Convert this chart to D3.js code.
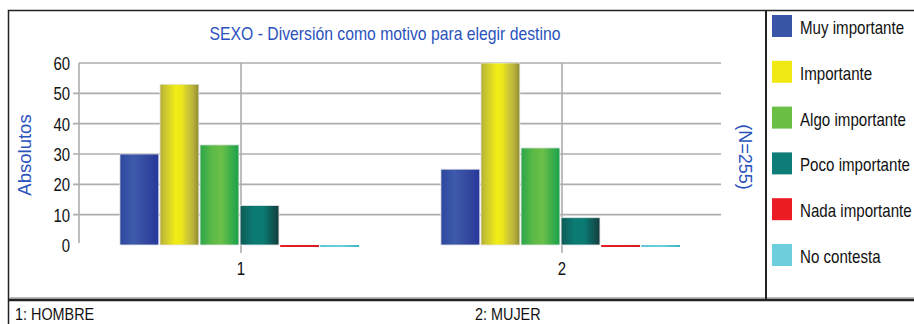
<!DOCTYPE html>
<html><head><meta charset="utf-8">
<script src="https://cdn.jsdelivr.net/npm/d3@7"></script>
<style>body{margin:0;background:#fff;overflow:hidden}text{font-family:"Liberation Sans",Arial,sans-serif}</style>
</head><body><svg id="c" width="914" height="324"></svg>
<script>
const categories = ["1", "2"];
const categoryNames = ["1: HOMBRE", "2: MUJER"];
const seriesNames = ["Muy importante", "Importante", "Algo importante", "Poco importante", "Nada importante", "No contesta"];
const muyImportante = [30, 25];
const importante = [53, 60];
const algoImportante = [33, 32];
const pocoImportante = [13, 9];
const nadaImportante = [0, 0];
const noContesta = [0, 0];
const yTicks = [0, 10, 20, 30, 40, 50, 60];
const title = "SEXO - Diversión como motivo para elegir destino";
const yLabel = "Absolutos";
const rightLabel = "(N=255)";

const seriesValues = [muyImportante, importante, algoImportante, pocoImportante, nadaImportante, noContesta];
const legendColors = ["#3a55a8", "#f0e914", "#6bbf45", "#0f7d77", "#ec1c24", "#6dcfde"];
const gradStops = [
  [["0", "#2d479e"], ["0.35", "#3e5aab"], ["0.7", "#33489f"], ["1", "#26379a"]],
  [["0", "#b3ad38"], ["0.12", "#c9c430"], ["0.25", "#dcd726"], ["0.4", "#f2ec16"], ["0.55", "#ece61a"], ["0.7", "#d0ca34"], ["0.85", "#b9b33a"], ["1", "#8e8a2e"]],
  [["0", "#2aa64a"], ["0.3", "#5ab947"], ["0.55", "#6cc04a"], ["0.8", "#3cae4a"], ["1", "#19a04b"]],
  [["0", "#0f5a56"], ["0.35", "#0b7c74"], ["0.6", "#0a7a72"], ["1", "#143c3d"]],
  [["0", "#e61e25"], ["1", "#d81a22"]],
  [["0", "#5cc6d6"], ["0.5", "#6dd0df"], ["1", "#3eb5c6"]]
];
const SX = 0.83;

const svg = d3.select("#c");
const defs = svg.append("defs");
gradStops.forEach((st, i) => {
  const g = defs.append("linearGradient").attr("id", "g" + i).attr("x1", "0").attr("x2", "1").attr("y1", "0").attr("y2", "0");
  st.forEach(s => g.append("stop").attr("offset", s[0]).attr("stop-color", s[1]));
});

function txt(sel, x, y, s, size, color, anchor, rot, sx) {
  return sel.append("text")
    .attr("transform", `translate(${x},${y})${rot ? ` rotate(${rot})` : ""} scale(${sx || SX},1)`)
    .attr("font-size", size).attr("fill", color).attr("text-anchor", anchor || "start").text(s);
}

// frames
svg.append("rect").attr("x", 8.5).attr("y", 10.5).attr("width", 920).attr("height", 289).attr("fill", "#fff").attr("stroke", "#222").attr("stroke-width", 1.5);
svg.append("line").attr("x1", 9).attr("x2", 914).attr("y1", 297.5).attr("y2", 297.5).attr("stroke", "#bbb").attr("stroke-width", 1);
svg.append("line").attr("x1", 8).attr("x2", 914).attr("y1", 300).attr("y2", 300).attr("stroke", "#222").attr("stroke-width", 2.5);
svg.append("line").attr("x1", 766).attr("x2", 766).attr("y1", 10).attr("y2", 299).attr("stroke", "#222").attr("stroke-width", 2);
svg.append("line").attr("x1", 8.5).attr("x2", 8.5).attr("y1", 300).attr("y2", 324).attr("stroke", "#222").attr("stroke-width", 1.5);

const pLeft = 79, pRight = 721, pTop = 63, pBottom = 245;
const x0 = d3.scaleBand().domain(categories).range([pLeft, pRight]).paddingInner(0.255).paddingOuter(0.1275);
const x1 = d3.scaleBand().domain(seriesNames).range([0, x0.bandwidth()]).paddingInner(0.03);
const y = d3.scaleLinear().domain([0, 60]).range([pBottom, pTop]);

// gridlines
const grid = svg.append("g");
yTicks.filter(t => t > 0).forEach(t => {
  grid.append("line").attr("x1", t === 60 ? pLeft : pLeft - 6).attr("x2", pRight).attr("y1", y(t)).attr("y2", y(t))
    .attr("stroke", "#adadad").attr("stroke-width", 1.6);
});
grid.append("line").attr("x1", pLeft).attr("x2", pLeft).attr("y1", pTop).attr("y2", pBottom - 2).attr("stroke", "#adadad").attr("stroke-width", 1.6);
categories.forEach(c => {
  const cx = x0(c) + x0.bandwidth() / 2 + 1.5;
  grid.append("line").attr("x1", cx).attr("x2", cx).attr("y1", pTop).attr("y2", pBottom + 8).attr("stroke", "#adadad").attr("stroke-width", 1.6);
});

// y tick labels
yTicks.forEach(t => txt(svg, 70, y(t) + 7, String(t), 18, "#111", "end"));
// category labels
categories.forEach(c => txt(svg, x0(c) + x0.bandwidth() / 2 + 1.5, 275, c, 18, "#111", "middle"));

// bars
categories.forEach((c, ci) => {
  seriesNames.forEach((s, si) => {
    const v = seriesValues[si][ci];
    const h = Math.max(pBottom - y(v), 2);
    svg.append("rect").attr("x", x0(c) + x1(s)).attr("y", v > 0 ? y(v) : pBottom).attr("width", x1.bandwidth()).attr("height", h)
      .attr("fill", `url(#g${si})`).attr("stroke", v > 0 ? "#e6e6e6" : "none").attr("stroke-width", 0.8);
  });
});

// titles
txt(svg, 385, 40, title, 19, "#2a52bd", "middle");
txt(svg, 31, 155, yLabel, 18, "#2a52bd", "middle", -90, 1.03);
txt(svg, 739, 157, rightLabel, 18, "#2a52bd", "middle", 90, 1.0);

// legend
seriesNames.forEach((s, i) => {
  const ly = 15 + i * 45.8;
  svg.append("rect").attr("x", 772).attr("y", ly).attr("width", 20).attr("height", 22).attr("fill", legendColors[i]);
  txt(svg, 800, ly + 19, s, 18, "#111", "start", 0, 0.84);
});

// footnotes
txt(svg, 15, 319.5, categoryNames[0], 16, "#111", "start", 0, 0.9);
txt(svg, 475, 319.5, categoryNames[1], 16, "#111", "start", 0, 0.9);
</script></body></html>
